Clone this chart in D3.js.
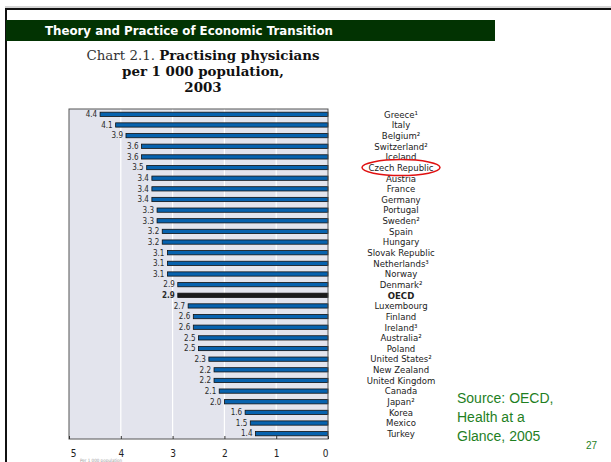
<!DOCTYPE html>
<html>
<head>
<meta charset="utf-8">
<script src="https://cdn.jsdelivr.net/npm/d3@7"></script>
<style>
  body { margin: 0; background: white; }
</style>
</head>
<body>
<script>
// chart values, top to bottom as in the picture
var countries = ["Greece\u00b9", "Italy", "Belgium\u00b2", "Switzerland\u00b2", "Iceland",
  "Czech Republic", "Austria", "France", "Germany", "Portugal", "Sweden\u00b2", "Spain",
  "Hungary", "Slovak Republic", "Netherlands\u00b3", "Norway", "Denmark\u00b2", "OECD",
  "Luxembourg", "Finland", "Ireland\u00b3", "Australia\u00b2", "Poland", "United States\u00b2",
  "New Zealand", "United Kingdom", "Canada", "Japan\u00b2", "Korea", "Mexico", "Turkey"];
var values = [4.4, 4.1, 3.9, 3.6, 3.6, 3.5, 3.4, 3.4, 3.4, 3.3, 3.3, 3.2, 3.2, 3.1, 3.1, 3.1,
  2.9, 2.9, 2.7, 2.6, 2.6, 2.5, 2.5, 2.3, 2.2, 2.2, 2.1, 2.0, 1.6, 1.5, 1.4];
var axisTicks = [5, 4, 3, 2, 1, 0];
var gridTicks = [4, 3, 2, 1];
var titleLines = ["per 1 000 population,", "2003"];
var sourceLines = ["Source: OECD,", "Health at a", "Glance, 2005"];

var data = countries.map(function(c, i) { return {country: c, value: values[i]}; });

var W = 611, H = 462;
var narrow = "'Liberation Sans Narrow', 'DejaVu Sans Condensed', 'Liberation Sans', sans-serif";

var svg = d3.select("body")
  .append("svg")
    .attr("width", W)
    .attr("height", H)
    .style("display", "block");

// slide frame
svg.append("line").attr("x1", 5).attr("x2", W).attr("y1", 7).attr("y2", 7)
  .attr("stroke", "#aaa").attr("stroke-width", 1);
svg.append("line").attr("x1", 5).attr("x2", W).attr("y1", 9).attr("y2", 9)
  .attr("stroke", "#111").attr("stroke-width", 2);
svg.append("line").attr("x1", 6).attr("x2", 6).attr("y1", 8).attr("y2", H)
  .attr("stroke", "#111").attr("stroke-width", 2);

// green header
svg.append("rect").attr("x", 6).attr("y", 20).attr("width", 489).attr("height", 21)
  .attr("fill", "#023302");
svg.append("text").attr("x", 45).attr("y", 35)
  .attr("fill", "white")
  .style("font-family", "'DejaVu Sans', Verdana, sans-serif")
  .style("font-weight", "bold")
  .style("font-size", "11.8px")
  .text("Theory and Practice of Economic Transition");

// chart title
var title = svg.append("g")
  .attr("text-anchor", "middle")
  .style("font-family", "'DejaVu Serif', 'Liberation Serif', serif")
  .style("font-size", "13.4px")
  .attr("fill", "#111");
var t1 = title.append("text").attr("x", 203).attr("y", 60);
t1.append("tspan").text("Chart 2.1. ").style("font-weight", "normal").attr("fill", "#333");
t1.append("tspan").text("Practising physicians").style("font-weight", "bold");
title.selectAll("text.sub")
  .data(titleLines)
  .enter()
  .append("text")
  .attr("class", "sub")
  .attr("x", 203)
  .attr("y", function(d, i) { return 76 + i * 16; })
  .style("font-weight", "bold")
  .text(function(d) { return d; });

// scales
var x = d3.scaleLinear().domain([5, 0]).range([69, 328]);
var y = d3.scaleBand()
  .domain(countries)
  .range([109, 439])
  .paddingInner(0.6)
  .paddingOuter(0.3);

// plot background
svg.append("rect")
  .attr("x", x(5)).attr("y", 109)
  .attr("width", x(0) - x(5)).attr("height", 439 - 109)
  .attr("fill", "#e3e4ed");

svg.append("g").selectAll("line")
  .data(gridTicks)
  .enter()
  .append("line")
  .attr("x1", function(d) { return x(d); })
  .attr("x2", function(d) { return x(d); })
  .attr("y1", 109).attr("y2", 439)
  .attr("stroke", "white").attr("stroke-width", 1.2);

// bars
svg.append("g").selectAll("rect")
  .data(data)
  .enter()
  .append("rect")
  .attr("x", function(d) { return x(d.value); })
  .attr("y", function(d) { return y(d.country); })
  .attr("width", function(d) { return x(0) - x(d.value); })
  .attr("height", y.bandwidth())
  .attr("fill", function(d) { return d.country === "OECD" ? "#1b1b1b" : "#0762ae"; })
  .attr("stroke", "#111")
  .attr("stroke-width", 0.8);

// value labels
svg.append("g")
  .attr("text-anchor", "end")
  .style("font-family", narrow)
  .style("font-size", "8px")
  .attr("fill", "#2a2a2a")
  .selectAll("text")
  .data(data)
  .enter()
  .append("text")
  .attr("x", function(d) { return x(d.value) - 3; })
  .attr("y", function(d) { return y(d.country) + y.bandwidth() / 2; })
  .attr("dy", "0.35em")
  .style("font-weight", function(d) { return d.country === "OECD" ? "bold" : "normal"; })
  .text(function(d) { return d.value.toFixed(1); });

// plot border
svg.append("rect")
  .attr("x", x(5)).attr("y", 109)
  .attr("width", x(0) - x(5)).attr("height", 439 - 109)
  .attr("fill", "none")
  .attr("stroke", "#555").attr("stroke-width", 1);

// x axis
var xAxis = svg.append("g")
  .attr("transform", "translate(0,439)")
  .call(d3.axisBottom(x).tickValues(axisTicks).tickSizeInner(-3).tickSizeOuter(0).tickPadding(11)
    .tickFormat(d3.format("d")));
xAxis.select(".domain").remove();
xAxis.selectAll("line").attr("stroke", "#333");
xAxis.selectAll("text")
  .style("font-family", narrow)
  .style("font-size", "10px")
  .attr("fill", "#222")
  .attr("dx", function(d) { return d === 5 ? 4 : (d === 0 ? -3 : 0); });

// country labels
svg.append("g")
  .attr("text-anchor", "middle")
  .style("font-family", narrow)
  .style("font-size", "9.5px")
  .attr("fill", "#222")
  .selectAll("text")
  .data(data)
  .enter()
  .append("text")
  .attr("x", 401)
  .attr("y", function(d) { return y(d.country) + y.bandwidth() / 2; })
  .attr("dy", "0.35em")
  .style("font-weight", function(d) { return d.country === "OECD" ? "bold" : "normal"; })
  .text(function(d) { return d.country; });

// red highlight round Czech Republic
svg.append("ellipse")
  .attr("cx", 401)
  .attr("cy", y("Czech Republic") + y.bandwidth() / 2)
  .attr("rx", 39).attr("ry", 8)
  .attr("fill", "none")
  .attr("stroke", "#e01010")
  .attr("stroke-width", 1.5);

// note under the axis, mostly hidden at the slide edge
svg.append("text").attr("x", 80).attr("y", 461.5)
  .style("font-family", narrow).style("font-size", "4.5px")
  .attr("fill", "#999")
  .text("Per 1 000 population");

// source
svg.append("g")
  .style("font-family", "'Liberation Sans', Arial, sans-serif")
  .style("font-size", "14px")
  .attr("fill", "#1f7f1f")
  .selectAll("text")
  .data(sourceLines)
  .enter()
  .append("text")
  .attr("x", 457)
  .attr("y", function(d, i) { return 403 + i * 19; })
  .text(function(d) { return d; });

svg.append("text").attr("x", 586).attr("y", 449)
  .style("font-family", "'Liberation Sans', Arial, sans-serif")
  .style("font-size", "10px")
  .attr("fill", "#1f7f1f")
  .text("27");
</script>
</body>
</html>
